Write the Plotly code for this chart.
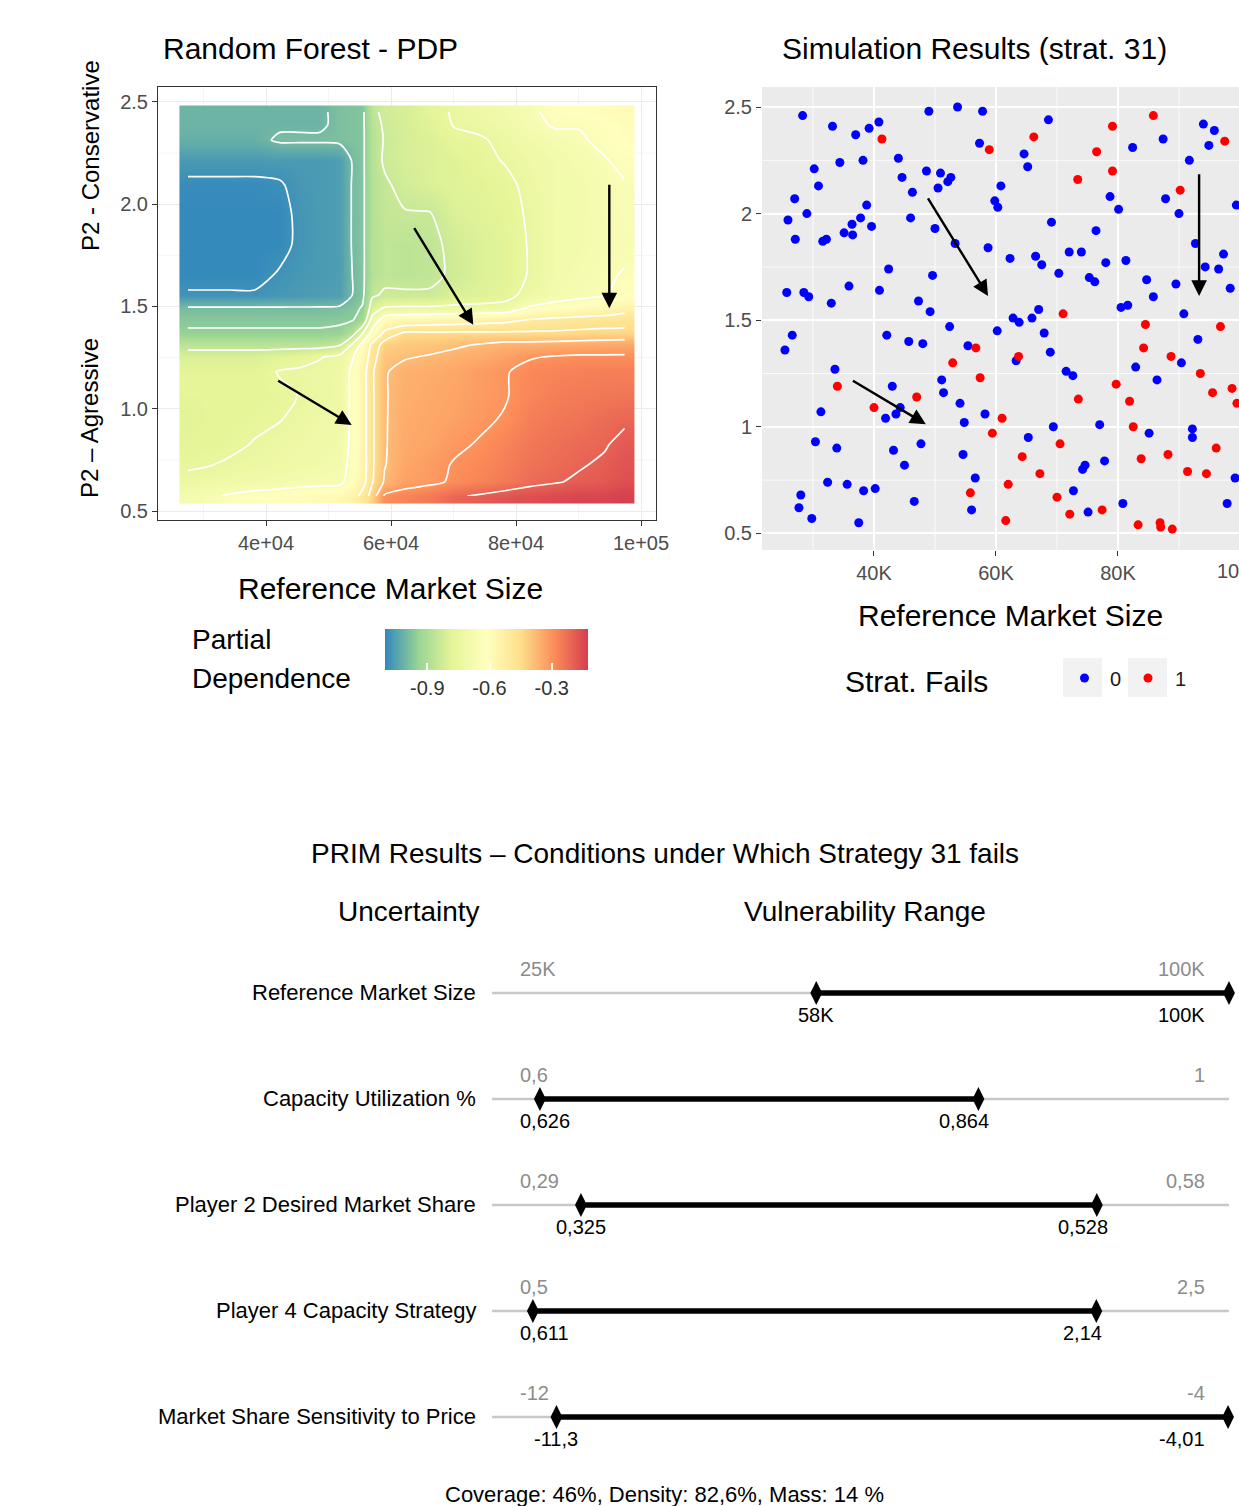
import plotly.graph_objects as go

W, H = 1239, 1506
FONT = "Liberation Sans, Arial, sans-serif"

# ---------------- Random Forest PDP (grid) ----------------
pdp_market_size = [27500, 30200, 34200, 38200, 42200, 45400, 48600, 51800, 53800, 55400, 57000,
                   59000, 62200, 66200, 70200, 74200, 78200, 82200, 86200, 90200, 94200, 97400]
# rows listed from top (conservative) to bottom (aggressive)
pdp_p2_strategy = [2.451, 2.388, 2.314, 2.216, 2.094, 1.947, 1.801, 1.654, 1.556, 1.493, 1.434,
                   1.370, 1.312, 1.253, 1.180, 1.067, 0.945, 0.823, 0.725, 0.642, 0.573]
pdp_values = [
    [-1.01, -1.01, -1.01, -1.01, -1.01, -1.01, -1.01, -0.985, -0.98, -0.975, -0.86, -0.82, -0.81, -0.78, -0.74, -0.72, -0.70, -0.67, -0.62, -0.61, -0.60, -0.59],
    [-1.01, -1.01, -1.01, -1.01, -1.01, -1.01, -1.01, -0.985, -0.98, -0.975, -0.87, -0.83, -0.81, -0.79, -0.745, -0.73, -0.71, -0.68, -0.64, -0.645, -0.62, -0.60],
    [-1.02, -1.02, -1.02, -1.02, -0.99, -0.99, -0.99, -0.985, -0.98, -0.975, -0.875, -0.835, -0.81, -0.80, -0.77, -0.76, -0.73, -0.70, -0.68, -0.66, -0.63, -0.61],
    [-1.065, -1.065, -1.065, -1.065, -1.065, -1.065, -1.065, -1.06, -0.995, -0.975, -0.875, -0.83, -0.81, -0.80, -0.79, -0.77, -0.745, -0.72, -0.70, -0.68, -0.655, -0.63],
    [-1.095, -1.095, -1.095, -1.095, -1.09, -1.07, -1.065, -1.06, -0.995, -0.975, -0.88, -0.85, -0.82, -0.80, -0.79, -0.785, -0.77, -0.73, -0.70, -0.69, -0.67, -0.655],
    [-1.10, -1.10, -1.10, -1.10, -1.10, -1.075, -1.065, -1.06, -0.995, -0.975, -0.88, -0.85, -0.845, -0.845, -0.80, -0.79, -0.78, -0.74, -0.70, -0.69, -0.67, -0.66],
    [-1.10, -1.10, -1.10, -1.10, -1.10, -1.075, -1.065, -1.06, -0.995, -0.975, -0.88, -0.86, -0.865, -0.86, -0.82, -0.80, -0.785, -0.745, -0.70, -0.69, -0.675, -0.665],
    [-1.10, -1.10, -1.10, -1.10, -1.08, -1.07, -1.065, -1.06, -1.0, -0.975, -0.88, -0.86, -0.865, -0.86, -0.825, -0.80, -0.785, -0.745, -0.70, -0.68, -0.66, -0.645],
    [-1.08, -1.08, -1.08, -1.08, -1.07, -1.065, -1.06, -1.055, -1.0, -0.975, -0.85, -0.83, -0.83, -0.83, -0.80, -0.79, -0.78, -0.72, -0.685, -0.67, -0.655, -0.62],
    [-0.995, -0.995, -0.995, -0.995, -0.995, -0.995, -0.995, -0.99, -0.975, -0.95, -0.80, -0.745, -0.74, -0.74, -0.735, -0.73, -0.72, -0.64, -0.62, -0.60, -0.58, -0.55],
    [-0.97, -0.97, -0.97, -0.97, -0.97, -0.97, -0.97, -0.965, -0.96, -0.92, -0.72, -0.60, -0.58, -0.57, -0.56, -0.55, -0.54, -0.515, -0.50, -0.49, -0.485, -0.48],
    [-0.945, -0.945, -0.945, -0.945, -0.945, -0.945, -0.945, -0.94, -0.88, -0.76, -0.62, -0.50, -0.44, -0.44, -0.44, -0.44, -0.44, -0.44, -0.44, -0.435, -0.43, -0.43],
    [-0.87, -0.87, -0.87, -0.87, -0.87, -0.87, -0.87, -0.845, -0.74, -0.62, -0.50, -0.42, -0.41, -0.40, -0.39, -0.375, -0.36, -0.36, -0.355, -0.35, -0.345, -0.34],
    [-0.80, -0.80, -0.80, -0.80, -0.79, -0.775, -0.755, -0.73, -0.66, -0.58, -0.48, -0.40, -0.385, -0.375, -0.36, -0.35, -0.33, -0.305, -0.295, -0.29, -0.29, -0.29],
    [-0.78, -0.78, -0.78, -0.78, -0.745, -0.74, -0.73, -0.72, -0.63, -0.56, -0.46, -0.385, -0.36, -0.35, -0.34, -0.32, -0.305, -0.28, -0.27, -0.265, -0.26, -0.26],
    [-0.78, -0.78, -0.78, -0.78, -0.765, -0.748, -0.735, -0.72, -0.63, -0.56, -0.46, -0.385, -0.355, -0.345, -0.335, -0.32, -0.305, -0.275, -0.26, -0.25, -0.245, -0.24],
    [-0.785, -0.78, -0.775, -0.765, -0.752, -0.735, -0.72, -0.71, -0.63, -0.56, -0.46, -0.385, -0.35, -0.34, -0.33, -0.31, -0.295, -0.26, -0.245, -0.235, -0.22, -0.21],
    [-0.78, -0.775, -0.765, -0.745, -0.73, -0.72, -0.71, -0.70, -0.63, -0.56, -0.46, -0.385, -0.345, -0.335, -0.31, -0.295, -0.27, -0.245, -0.23, -0.215, -0.205, -0.18],
    [-0.76, -0.755, -0.74, -0.73, -0.72, -0.71, -0.70, -0.69, -0.62, -0.56, -0.46, -0.383, -0.34, -0.32, -0.295, -0.28, -0.26, -0.235, -0.22, -0.205, -0.19, -0.17],
    [-0.73, -0.72, -0.71, -0.70, -0.69, -0.68, -0.675, -0.67, -0.61, -0.55, -0.455, -0.37, -0.33, -0.315, -0.29, -0.27, -0.25, -0.22, -0.205, -0.19, -0.18, -0.16],
    [-0.68, -0.67, -0.64, -0.62, -0.61, -0.60, -0.59, -0.58, -0.55, -0.50, -0.42, -0.29, -0.27, -0.25, -0.21, -0.19, -0.17, -0.16, -0.15, -0.14, -0.14, -0.13],
]
pdp_contour_levels = [-1.085, -1.0, -0.955, -0.84, -0.75, -0.65, -0.52, -0.45, -0.38, -0.30, -0.20]
pdp_value_range = [-1.104, -0.125]
pdp_colorbar_ticks = [-0.9, -0.6, -0.3]
pdp_colorbar_ticklabels = ["-0.9", "-0.6", "-0.3"]
pdp_x_ticks = [40000, 60000, 80000, 100000]
pdp_x_ticklabels = ["4e+04", "6e+04", "8e+04", "1e+05"]
pdp_x_minor = [30000, 50000, 70000, 90000]
pdp_y_ticks = [0.5, 1.0, 1.5, 2.0, 2.5]
pdp_y_ticklabels = ["0.5", "1.0", "1.5", "2.0", "2.5"]
pdp_y_minor = [0.75, 1.25, 1.75, 2.25]
# arrows: (tail market, tail p2, head market, head p2)
pdp_arrows = [(63570, 1.890, 73170, 1.410), (41710, 1.141, 53710, 0.921), (94930, 2.102, 94930, 1.491)]

# ---------------- Simulation results (market size in K) ----------------
sim_ok_x = [28.3, 33.2, 37.0, 39.2, 40.8, 49.0, 53.7, 57.8, 57.3, 44.0, 38.2, 34.4, 30.2, 30.9, 44.6,
            48.6, 50.9, 52.6, 52.1, 50.5, 46.3, 60.8, 27.0, 29.0, 25.9, 27.1, 38.8, 37.8, 36.4, 35.1,
            36.5, 39.6, 31.6, 32.2, 46.0, 50.0, 53.3, 58.7, 59.8, 60.3, 42.4, 49.6, 35.9, 40.9, 25.7,
            28.5, 29.3, 33.0, 47.3, 49.2, 68.6, 64.6, 65.2, 82.4, 87.4, 94.0, 95.8, 94.9, 91.7, 87.8,
            90.0, 99.4, 78.7, 80.1, 69.1, 76.4, 62.3, 66.5, 67.5, 72.0, 74.0, 70.3, 78.0, 81.3, 75.3,
            76.2, 84.7, 85.8, 89.5, 92.7, 94.3, 96.5, 97.3, 98.4, 80.5, 81.6, 90.8, 67.0, 62.8, 65.9,
            63.8, 52.4, 60.2, 26.6, 25.4, 42.1, 45.7, 48.0, 55.4, 33.6, 51.1, 51.4, 54.1, 58.2, 54.8,
            43.0, 44.3, 43.6, 41.9, 31.3, 30.4, 33.9, 43.2, 47.7, 45.0, 54.6, 56.6, 56.0, 32.4, 35.6,
            38.3, 40.2, 28.0, 27.7, 29.8, 37.5, 46.6, 67.9, 68.9, 63.3, 71.5, 72.6, 69.4, 65.3, 74.6,
            74.2, 77.8, 77.0, 72.7, 75.1, 80.8, 82.9, 86.4, 90.4, 93.1, 85.1, 92.2, 92.2, 99.2, 97.9]
sim_ok_y = [2.46, 2.41, 2.37, 2.40, 2.43, 2.48, 2.50, 2.48, 2.33, 2.26, 2.25, 2.24, 2.21, 2.13, 2.17,
            2.20, 2.19, 2.17, 2.15, 2.12, 2.10, 2.13, 2.07, 2.00, 1.97, 1.88, 2.04, 1.98, 1.95, 1.91,
            1.90, 1.94, 1.87, 1.88, 1.98, 1.93, 1.86, 1.84, 2.06, 2.03, 1.74, 1.71, 1.66, 1.64, 1.63,
            1.63, 1.61, 1.58, 1.59, 1.54, 2.44, 2.28, 2.22, 2.31, 2.35, 2.42, 2.39, 2.32, 2.25, 2.07,
            2.00, 2.04, 2.08, 2.02, 1.96, 1.92, 1.79, 1.80, 1.76, 1.82, 1.82, 1.72, 1.77, 1.78, 1.70,
            1.68, 1.69, 1.61, 1.67, 1.86, 1.75, 1.74, 1.81, 1.65, 1.56, 1.57, 1.53, 1.55, 1.51, 1.51,
            1.49, 1.47, 1.45, 1.43, 1.36, 1.43, 1.40, 1.39, 1.38, 1.27, 1.22, 1.16, 1.11, 1.06, 1.02,
            1.19, 1.09, 1.06, 1.04, 1.07, 0.93, 0.90, 0.89, 0.92, 0.82, 0.87, 0.76, 0.61, 0.74, 0.73,
            0.70, 0.71, 0.68, 0.62, 0.57, 0.55, 0.65, 1.44, 1.35, 1.31, 1.26, 1.24, 1.00, 0.95, 0.82,
            0.80, 0.84, 1.01, 0.70, 0.60, 0.64, 1.28, 1.22, 1.30, 1.41, 0.97, 0.99, 0.95, 0.76, 0.64]
sim_fail_x = [41.3, 58.9, 66.2, 79.1, 85.8, 76.5, 79.1, 73.4, 97.5, 90.2, 71.0, 56.7, 52.9, 57.4, 34.0,
              47.0, 40.0, 61.0, 59.4, 55.8, 63.7, 73.5, 70.5, 64.3, 67.2, 62.0, 61.6, 70.0, 72.1, 77.4,
              84.5, 84.2, 79.7, 81.9, 88.7, 96.8, 93.5, 95.5, 98.7, 99.5, 82.5, 88.2, 83.8, 96.1, 91.4,
              94.5, 83.3, 86.9, 87.0, 88.9]
sim_fail_y = [2.35, 2.30, 2.36, 2.41, 2.46, 2.29, 2.20, 2.16, 2.34, 2.11, 1.53, 1.37, 1.30, 1.23, 1.19,
              1.14, 1.09, 1.04, 0.97, 0.69, 1.33, 1.13, 0.92, 0.86, 0.78, 0.73, 0.56, 0.67, 0.59, 0.61,
              1.48, 1.37, 1.20, 1.12, 1.33, 1.47, 1.25, 1.16, 1.18, 1.11, 1.00, 0.87, 0.85, 0.90, 0.79,
              0.78, 0.54, 0.55, 0.53, 0.52]
sim_x_ticks = [40, 60, 80]
sim_x_ticklabels = ["40K", "60K", "80K"]
sim_x_minor = [30, 50, 70, 90]
sim_y_ticks = [0.5, 1.0, 1.5, 2.0, 2.5]
sim_y_ticklabels = ["0.5", "1", "1.5", "2", "2.5"]
sim_y_minor = [0.75, 1.25, 1.75, 2.25]
sim_arrows = [(48.7, 2.079, 58.7, 1.614), (36.3, 1.220, 48.5, 1.012), (93.3, 2.192, 93.3, 1.614)]

# ---------------- PRIM results ----------------
prim_uncertainties = ["Reference Market Size", "Capacity Utilization %", "Player 2 Desired Market Share",
                      "Player 4 Capacity Strategy", "Market Share Sensitivity to Price"]
prim_range_min = [25000, 0.6, 0.29, 0.5, -12]
prim_range_max = [100000, 1.0, 0.58, 2.5, -4]
prim_box_lo = [58000, 0.626, 0.325, 0.611, -11.3]
prim_box_hi = [100000, 0.864, 0.528, 2.14, -4.01]
prim_min_text = ["25K", "0,6", "0,29", "0,5", "-12"]
prim_max_text = ["100K", "1", "0,58", "2,5", "-4"]
prim_lo_text = ["58K", "0,626", "0,325", "0,611", "-11,3"]
prim_hi_text = ["100K", "0,864", "0,528", "2,14", "-4,01"]
prim_stats = "Coverage: 46%, Density: 82,6%, Mass: 14 %"


def PX(px):
    return px / W


def PY(py):
    return 1 - py / H


spectral = [[0, "#3288BD"], [1 / 6, "#99D594"], [2 / 6, "#E6F598"], [3 / 6, "#FFFFBF"],
            [4 / 6, "#FEE08B"], [5 / 6, "#FC8D59"], [1, "#D53E4F"]]

fig = go.Figure()

y_asc = pdp_p2_strategy[::-1]
z_asc = pdp_values[::-1]

fig.add_trace(go.Heatmap(
    x=pdp_market_size, y=y_asc, z=z_asc, zsmooth="best", colorscale=spectral,
    zmin=pdp_value_range[0], zmax=pdp_value_range[1], hoverinfo="skip",
    xaxis="x", yaxis="y",
    colorbar=dict(orientation="h", x=PX(486.5), xanchor="center", y=PY(629), yanchor="top",
                  len=203, lenmode="pixels", thickness=41, thicknessmode="pixels",
                  outlinewidth=0, xpad=0, ypad=0,
                  tickmode="array", tickvals=pdp_colorbar_ticks, ticktext=pdp_colorbar_ticklabels,
                  ticks="inside", ticklen=7, tickcolor="white", tickwidth=1.5,
                  tickfont=dict(size=20, color="#333333", family=FONT)),
))
for lvl in pdp_contour_levels:
    fig.add_trace(go.Contour(
        x=pdp_market_size, y=y_asc, z=z_asc, autocontour=False,
        contours=dict(coloring="none", start=lvl, end=lvl + 0.0005, size=0.001, showlabels=False),
        line=dict(color="white", width=1.7, smoothing=0.7), showscale=False,
        hoverinfo="skip", xaxis="x", yaxis="y"))

fig.add_trace(go.Scatter(x=sim_ok_x, y=sim_ok_y, mode="markers", xaxis="x2", yaxis="y2",
                         marker=dict(color="#0000FF", size=9), hoverinfo="skip"))
fig.add_trace(go.Scatter(x=sim_fail_x, y=sim_fail_y, mode="markers", xaxis="x2", yaxis="y2",
                         marker=dict(color="#FF0000", size=9), hoverinfo="skip"))

# PRIM rows (normalised to each uncertainty's range)
annotations = []
for i, name in enumerate(prim_uncertainties):
    lo_n = (prim_box_lo[i] - prim_range_min[i]) / (prim_range_max[i] - prim_range_min[i])
    hi_n = (prim_box_hi[i] - prim_range_min[i]) / (prim_range_max[i] - prim_range_min[i])
    fig.add_trace(go.Scatter(x=[0, 1], y=[i, i], mode="lines", xaxis="x3", yaxis="y3",
                             line=dict(color="#c8c8c8", width=2.5), hoverinfo="skip"))
    fig.add_trace(go.Scatter(x=[lo_n, hi_n], y=[i, i], mode="lines+markers", xaxis="x3", yaxis="y3",
                             line=dict(color="black", width=5.5),
                             marker=dict(symbol="diamond-tall", size=17, color="black"),
                             hoverinfo="skip", cliponaxis=False))
    lab = dict(font=dict(family=FONT, size=20, color="#8c8c8c"), showarrow=False,
               xref="x3", yref="y3", y=i, yshift=24, yanchor="middle")
    annotations.append(dict(lab, x=0.035, xanchor="left", text=prim_min_text[i]))
    annotations.append(dict(lab, x=0.97, xanchor="right", text=prim_max_text[i]))
    val = dict(font=dict(family=FONT, size=20, color="black"), showarrow=False,
               xref="x3", yref="y3", y=i, yshift=-22, yanchor="middle")
    if lo_n < 0.07:
        annotations.append(dict(val, x=0.035, xanchor="left", text=prim_lo_text[i]))
    else:
        annotations.append(dict(val, x=lo_n, xanchor="center", text=prim_lo_text[i]))
    if hi_n > 0.95:
        annotations.append(dict(val, x=0.97, xanchor="right", text=prim_hi_text[i]))
    else:
        annotations.append(dict(val, x=hi_n, xanchor="center", xshift=-14, text=prim_hi_text[i]))
    annotations.append(dict(text=name, x=PX(478), xref="paper", xanchor="right", y=i, yref="y3",
                            yshift=1, yanchor="middle", showarrow=False,
                            font=dict(family=FONT, size=22, color="black")))


def txt(text, px, py, size, xanchor="left", color="black", angle=0):
    return dict(text=text, x=PX(px), y=PY(py), xref="paper", yref="paper", xanchor=xanchor,
                yanchor="middle", showarrow=False, textangle=angle,
                font=dict(family=FONT, size=size, color=color))


annotations += [
    txt("Random Forest - PDP", 161, 49, 30),
    txt("Simulation Results (strat. 31)", 780, 49, 30),
    txt("Reference Market Size", 390.5, 588, 30, "center"),
    txt("Reference Market Size", 1010.5, 615, 30, "center"),
    txt("P2 - Conservative", 90, 156, 24, "center", angle=-90),
    txt("P2 \u2013 Agressive", 90, 418, 24, "center", angle=-90),
    txt("Partial", 190, 639, 28),
    txt("Dependence", 190, 678, 28),
    txt("Strat. Fails", 843, 681, 30),
    txt("0", 1115, 679, 20, "center", color="#1a1a1a"),
    txt("1", 1180, 679, 20, "center", color="#1a1a1a"),
    txt("100K", 1240, 571, 20, "center", color="#4d4d4d"),
    txt("PRIM Results \u2013 Conditions under Which Strategy 31 fails", 665, 853, 28, "center"),
    txt("Uncertainty", 409, 911, 28, "center"),
    txt("Vulnerability Range", 865, 911, 28, "center"),
    txt(prim_stats, 664, 1494, 22, "center"),
]

for (tx, ty, hx, hy) in pdp_arrows:
    annotations.append(dict(x=hx, y=hy, ax=tx, ay=ty, xref="x", yref="y", axref="x", ayref="y",
                            text="", showarrow=True, arrowhead=2, arrowsize=1.3, arrowwidth=2.4,
                            arrowcolor="black", standoff=0))
for (tx, ty, hx, hy) in sim_arrows:
    annotations.append(dict(x=hx, y=hy, ax=tx, ay=ty, xref="x2", yref="y2", axref="x2", ayref="y2",
                            text="", showarrow=True, arrowhead=2, arrowsize=1.3, arrowwidth=2.4,
                            arrowcolor="black", standoff=0))

shapes = [
    dict(type="rect", xref="x2 domain", yref="y2 domain", x0=0, x1=1, y0=0, y1=1,
         fillcolor="#EBEBEB", line=dict(width=0), layer="below"),
]
for v in pdp_x_minor:
    shapes.append(dict(type="line", xref="x", yref="y domain", x0=v, x1=v, y0=0, y1=1,
                       line=dict(color="#F2F2F2", width=0.8), layer="below"))
for v in pdp_y_minor:
    shapes.append(dict(type="line", xref="x domain", yref="y", x0=0, x1=1, y0=v, y1=v,
                       line=dict(color="#F2F2F2", width=0.8), layer="below"))
for v in sim_x_minor:
    shapes.append(dict(type="line", xref="x2", yref="y2 domain", x0=v, x1=v, y0=0, y1=1,
                       line=dict(color="white", width=0.8), layer="below"))
for v in sim_y_minor:
    shapes.append(dict(type="line", xref="x2 domain", yref="y2", x0=0, x1=1, y0=v, y1=v,
                       line=dict(color="white", width=0.8), layer="below"))
shapes += [
    dict(type="rect", xref="paper", yref="paper", x0=PX(1063), x1=PX(1102), y0=PY(697), y1=PY(658),
         fillcolor="#F2F2F2", line=dict(width=0), layer="below"),
    dict(type="rect", xref="paper", yref="paper", x0=PX(1128), x1=PX(1167), y0=PY(697), y1=PY(658),
         fillcolor="#F2F2F2", line=dict(width=0), layer="below"),
    dict(type="circle", xref="paper", yref="paper", x0=PX(1080), x1=PX(1089), y0=PY(682.5), y1=PY(673.5),
         fillcolor="#0000FF", line=dict(width=0)),
    dict(type="circle", xref="paper", yref="paper", x0=PX(1143.5), x1=PX(1152.5), y0=PY(682.5), y1=PY(673.5),
         fillcolor="#FF0000", line=dict(width=0)),
]

tickfont = dict(family=FONT, size=20, color="#4d4d4d")


def axis(**kw):
    base = dict(ticks="outside", ticklen=5, tickcolor="#333333", tickwidth=1, zeroline=False,
                tickfont=tickfont, fixedrange=True, tickmode="array")
    base.update(kw)
    return base


# PRIM panel occupies the lower part of the page (no overlap with the two upper panels)
PRIM_TOP = 800
prim_top_val = -(993 - PRIM_TOP) / 106.0
prim_bottom_val = prim_top_val + (H - PRIM_TOP) / 106.0

fig.update_layout(
    width=W, height=H, autosize=False, margin=dict(l=0, r=0, t=0, b=0, pad=0, autoexpand=False),
    showlegend=False, paper_bgcolor="white", plot_bgcolor="rgba(0,0,0,0)",
    xaxis=axis(domain=[PX(158), PX(656)], range=[22720, 102400], anchor="y",
               tickvals=pdp_x_ticks, ticktext=pdp_x_ticklabels,
               showgrid=True, gridcolor="#EBEBEB", gridwidth=1,
               showline=True, mirror=True, linecolor="#333333", linewidth=1),
    yaxis=axis(domain=[PY(520), PY(87)], range=[0.456, 2.573], anchor="x",
               tickvals=pdp_y_ticks, ticktext=pdp_y_ticklabels,
               showgrid=True, gridcolor="#EBEBEB", gridwidth=1,
               showline=True, mirror=True, linecolor="#333333", linewidth=1),
    xaxis2=axis(domain=[PX(762), 1.0], range=[21.64, 99.84], anchor="y2",
                tickvals=sim_x_ticks, ticktext=sim_x_ticklabels,
                showgrid=True, gridcolor="white", gridwidth=1.5, showline=False),
    yaxis2=axis(domain=[PY(550), PY(87)], range=[0.422, 2.594], anchor="x2",
                tickvals=sim_y_ticks, ticktext=sim_y_ticklabels,
                showgrid=True, gridcolor="white", gridwidth=1.5, showline=False),
    xaxis3=dict(domain=[0, 1], range=[-0.6676, 1.0136], anchor="y3", visible=False, fixedrange=True),
    yaxis3=dict(domain=[0, PY(PRIM_TOP)], range=[prim_bottom_val, prim_top_val], anchor="x3",
                visible=False, fixedrange=True),
    annotations=annotations,
    shapes=shapes,
)

fig.write_html(
    "out.html",
    config={"responsive": False, "displayModeBar": False},
    post_script=("document.documentElement.style.overflow='hidden';"
                 "document.body.style.margin='0';document.body.style.overflow='hidden';"),
)
